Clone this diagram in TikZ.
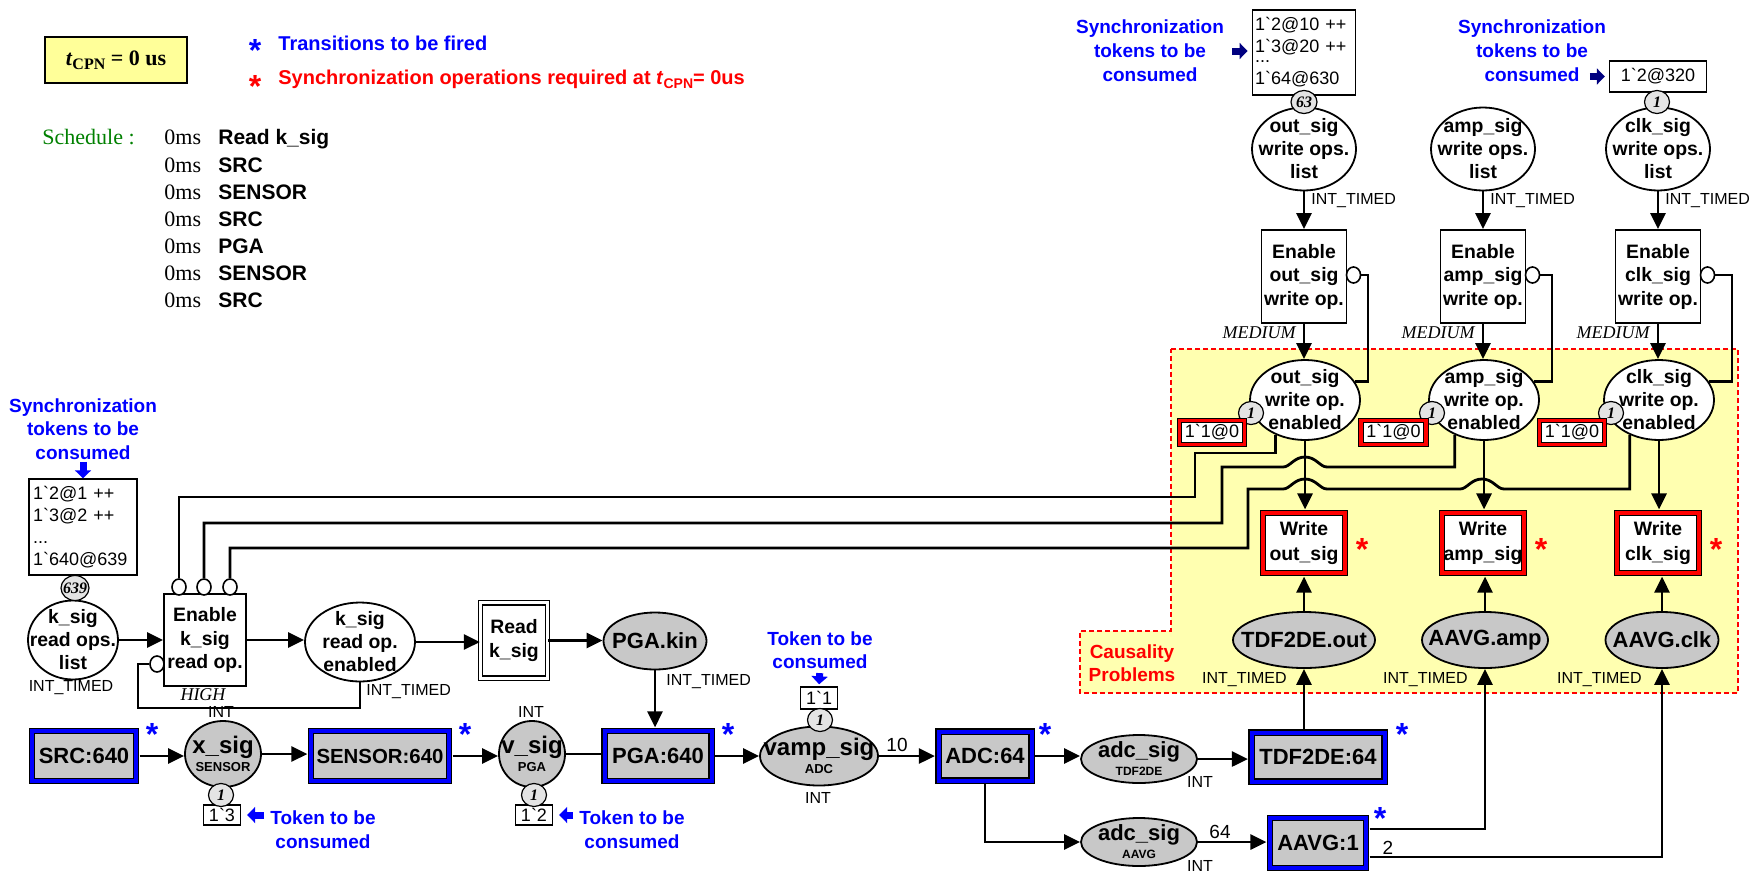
\documentclass[tikz,border=0pt]{standalone}
\usepackage{fontspec}
\setmainfont{Liberation Serif}
\setsansfont{Liberation Sans}
\newfontfamily\tokfont{Liberation Sans}
\usetikzlibrary{arrows.meta,shapes.geometric}
\definecolor{tblue}{HTML}{0000FF}
\definecolor{navyb}{HTML}{000080}
\definecolor{pgray}{HTML}{C8C8C8}
\definecolor{cgray}{HTML}{E4E4E4}
\definecolor{ayellow}{HTML}{FFFFB0}
\definecolor{byellow}{HTML}{FFFF99}
\definecolor{sgreen}{HTML}{008000}
\newcommand\myfs[2]{\fontsize{#1}{#2}\selectfont}
\newcommand\bq{\textasciigrave}
\begin{document}
\begin{tikzpicture}[x=0.5pt,y=-0.5pt,
  ptxt/.style={inner sep=0pt, align=center, font=\sffamily\bfseries\myfs{9.7}{11.5}},
  gtxt/.style={inner sep=0pt, align=center, font=\sffamily\bfseries\myfs{11}{12}},
  stxt/.style={inner sep=0pt, align=center, font=\sffamily\bfseries\myfs{12}{12}},
  atxt/.style={inner sep=0pt, align=center, font=\sffamily\bfseries\myfs{11}{12}},
  pl/.style={ellipse, draw, line width=0.9pt, fill=white, inner sep=0pt, label={[ptxt]center:#1}},
  gpl/.style={ellipse, draw, line width=0.9pt, fill=pgray, inner sep=0pt, label={[gtxt]center:#1}},
  spl/.style={ellipse, draw, line width=0.9pt, fill=pgray, inner sep=0pt, label={[stxt]center:#1}},
  apl/.style={ellipse, draw, line width=0.9pt, fill=pgray, inner sep=0pt, label={[atxt]center:#1}},
  wtrans/.style={rectangle, draw, line width=0.9pt, fill=white, inner sep=0pt, align=center, font=\sffamily\bfseries\myfs{9.7}{11.75}},
  btrans/.style={rectangle, draw=black, line width=0.6pt, double=tblue, double distance=2pt, fill=pgray, inner sep=0pt, font=\sffamily\bfseries\myfs{11}{12}},
  rtrans/.style={rectangle, draw=black, line width=0.6pt, double=red, double distance=2pt, fill=white, inner sep=0pt, align=center, font=\sffamily\bfseries\myfs{9.7}{12.5}},
  rtok/.style={rectangle, draw=black, line width=0.4pt, double=red, double distance=1.8pt, fill=white, inner sep=0pt, minimum width=32.5pt, minimum height=12pt, font=\tokfont\myfs{9}{10}},
  tok/.style={rectangle, draw, line width=0.7pt, fill=white, inner sep=0pt, font=\tokfont\myfs{9}{11}},
  cntf/.style={inner sep=0pt, font=\rmfamily\bfseries\itshape\myfs{8}{8}},
  cnt/.style={ellipse, draw, line width=0.6pt, fill=cgray, inner sep=0pt, minimum width=12.5pt, minimum height=11.5pt, label={[cntf]center:#1}},
  inh/.style={ellipse, draw, line width=0.8pt, fill=white, inner sep=0pt, minimum width=7pt, minimum height=8pt},
  small/.style={inner sep=0pt, font=\sffamily\myfs{8}{9}},
  prio/.style={inner sep=0pt, font=\rmfamily\itshape\myfs{9}{10}},
  num/.style={inner sep=0pt, font=\sffamily\myfs{9.5}{10}},
  bluetxt/.style={text=tblue, align=center, inner sep=0pt, font=\sffamily\bfseries\myfs{9.5}{11.75}},
  bstar/.style={text=tblue, inner sep=0pt, font=\sffamily\bfseries\myfs{16}{16}},
  rstar/.style={bstar, text=red},
  conn/.style={line width=1.4pt, -{Triangle[length=8pt,width=7.5pt]}},
  lnk/.style={line width=1.4pt},
  barr/.style={line width=3.5pt, -{Triangle[length=4pt,width=8pt]}},
  schl/.style={anchor=west, inner sep=0pt, text height=7.5pt, text depth=2pt, font=\rmfamily\myfs{11}{12}},
  schb/.style={anchor=west, inner sep=0pt, text height=7.5pt, text depth=2pt, font=\sffamily\bfseries\myfs{10.5}{12}}
]
\useasboundingbox (0,0) rectangle (1751,873);

% causality area
\fill[ayellow] (1171,349) -- (1738,349) -- (1738,693) -- (1080,693) -- (1080,631) -- (1171,631) -- cycle;
\draw[red, line width=0.6pt, dash pattern=on 2.5pt off 1.5pt] (1171,349) -- (1738,349) -- (1738,693) -- (1080,693) -- (1080,631) -- (1171,631) -- cycle;
\node[text=red, align=center, inner sep=0pt, font=\sffamily\bfseries\myfs{9.5}{11.5}] (caus) at (1132,663) {Causality\\Problems};

% legend
\node[draw, line width=0.75pt, fill=byellow, minimum width=71pt, minimum height=23pt, inner sep=0pt, font=\rmfamily\bfseries\myfs{11}{12}] (tcpn) at (116,60) {\textit{t}\raisebox{-2pt}{\myfs{8}{8}CPN} = 0 us};
\node[bstar] (s1) at (255,50) {*};
\node[anchor=west, inner sep=0pt, text=tblue, font=\sffamily\bfseries\myfs{10}{12}] (l1) at (278,43) {Transitions to be fired};
\node[rstar] (s2) at (255,86) {*};
\node[anchor=west, inner sep=0pt, text=red, font=\sffamily\bfseries\myfs{10}{12}] (l2) at (278,79) {Synchronization operations required at \textit{t}\raisebox{-2pt}{\myfs{7}{7}CPN}= 0us};

% schedule
\node[schl, text=sgreen] (sch) at (42,139) {Schedule :};
\node[schl] (t1) at (164,139) {0ms}; \node[schb] (e1) at (218,139) {Read k\_sig};
\node[schl] (t2) at (164,167) {0ms}; \node[schb] (e2) at (218,167) {SRC};
\node[schl] (t3) at (164,194) {0ms}; \node[schb] (e3) at (218,194) {SENSOR};
\node[schl] (t4) at (164,221) {0ms}; \node[schb] (e4) at (218,221) {SRC};
\node[schl] (t5) at (164,248) {0ms}; \node[schb] (e5) at (218,248) {PGA};
\node[schl] (t6) at (164,275) {0ms}; \node[schb] (e6) at (218,275) {SENSOR};
\node[schl] (t7) at (164,302) {0ms}; \node[schb] (e7) at (218,302) {SRC};

% k_sig part
\node[bluetxt] (syncK) at (83,429) {Synchronization\\tokens to be\\consumed};
\node[tok, align=left, text width=50pt, minimum width=54pt, minimum height=48pt] (ktok) at (83,527) {1\bq 2@1 ++\\1\bq 3@2 ++\\...\\1\bq 640@639};
\node[pl={k\_sig\\read ops.\\list}, minimum width=45pt, minimum height=39.5pt] (kops) at (73,640) {};
\node[cnt=639, minimum width=14pt, minimum height=12.5pt] (kcnt) at (75,588) {};
\node[small] (kopsT) at (71,688) {INT\_TIMED};
\node[wtrans, minimum width=41pt, minimum height=46pt] (enk) at (205,640) {Enable\\k\_sig\\read op.};
\node[prio] (enkP) at (203,695) {HIGH};
\node[inh] (inh0) at (157,664) {};
\node[inh] (inh1) at (179,587) {};
\node[inh] (inh2) at (204,587) {};
\node[inh] (inh3) at (230,587) {};
\node[pl={k\_sig\\read op.\\enabled}, minimum width=55pt, minimum height=39.5pt] (kenab) at (360,642) {};
\node[small, anchor=west] (kenabT) at (366,692) {INT\_TIMED};
\node[wtrans, double, double distance=1.6pt, line width=0.6pt, minimum width=33.5pt, minimum height=37.7pt] (readk) at (514,640.5) {Read\\k\_sig};
\node[gpl={PGA.kin}, minimum width=51.5pt, minimum height=28.5pt] (pgakin) at (655,641) {};
\node[small, anchor=west] (pgakinT) at (666,682) {INT\_TIMED};

% bottom row
\node[btrans, minimum width=52pt, minimum height=25pt] (src) at (84,756) {SRC:640};
\node[bstar] (st1) at (152,734) {*};
\node[spl={x\_sig\\[-3pt]{\myfs{6.5}{7}SENSOR}}, minimum width=38pt, minimum height=33pt] (xsig) at (223,754) {};
\node[small] (xsigT) at (221,712) {INT};
\node[tok, minimum width=18.5pt, minimum height=10pt] (xtok) at (222,815) {1\bq 3};
\node[cnt=1] (xcnt) at (221,795) {};
\node[bluetxt, font=\sffamily\bfseries\myfs{9.5}{12}] (xtt) at (323,830) {Token to be\\consumed};
\node[btrans, minimum width=69pt, minimum height=25pt, font=\sffamily\bfseries\myfs{10.2}{12}] (sensor) at (380,756) {SENSOR:640};
\node[bstar] (st2) at (465,734) {*};
\node[spl={v\_sig\\[-3pt]{\myfs{6.5}{7}PGA}}, minimum width=33pt, minimum height=33pt] (vsig) at (532,754) {};
\node[small] (vsigT) at (531,712) {INT};
\node[tok, minimum width=18.5pt, minimum height=10pt] (vtok) at (534,815) {1\bq 2};
\node[cnt=1] (vcnt) at (534,795) {};
\node[bluetxt, font=\sffamily\bfseries\myfs{9.5}{12}] (vtt) at (632,830) {Token to be\\consumed};
\node[btrans, minimum width=53.5pt, minimum height=25pt] (pga) at (658,756) {PGA:640};
\node[bstar] (st3) at (728,734) {*};
\node[spl={vamp\_sig\\[-3pt]{\myfs{6.5}{7}ADC}}, minimum width=59pt, minimum height=29.5pt] (vamp) at (819,756) {};
\node[small] (vampT) at (818,798) {INT};
\node[tok, minimum width=18.5pt, minimum height=11pt] (vatok) at (819,698) {1\bq 1};
\node[cnt=1] (vacnt) at (820,720) {};
\node[bluetxt] (vatt) at (820,650) {Token to be\\consumed};
\node[btrans, minimum width=46.5pt, minimum height=24.5pt] (adc) at (985,756) {ADC:64};
\node[bstar] (st4) at (1045,734) {*};
\node[apl={adc\_sig\\[-3pt]{\myfs{6}{7}TDF2DE}}, minimum width=58pt, minimum height=24pt] (adcT) at (1139,759) {};
\node[small] (adcTT) at (1200,782) {INT};
\node[btrans, minimum width=66.5pt, minimum height=24.5pt] (tdf) at (1318,757) {TDF2DE:64};
\node[bstar] (st5) at (1402,734) {*};
\node[apl={adc\_sig\\[-3pt]{\myfs{6}{7}AAVG}}, minimum width=58pt, minimum height=24pt] (adcA) at (1139,842) {};
\node[small] (adcAT) at (1200,866) {INT};
\node[btrans, minimum width=48pt, minimum height=25pt] (aavg) at (1318,843) {AAVG:1};
\node[bstar] (st6) at (1380,818) {*};
\node[num] (n10) at (897,745) {10};
\node[num] (n64) at (1220,832) {64};
\node[num] (n2) at (1388,848) {2};
\coordinate (ja) at (1485,829);
\coordinate (jc) at (1662,857);

% right columns
\node[bluetxt, font=\sffamily\bfseries\myfs{9.5}{12}] (syncO) at (1150,51) {Synchronization\\tokens to be\\consumed};
\node[bluetxt, font=\sffamily\bfseries\myfs{9.5}{12}] (syncC) at (1532,51) {Synchronization\\tokens to be\\consumed};
\node[tok, align=left, text width=49pt, minimum width=51.75pt, minimum height=42.5pt] (otok) at (1304,52.5) {1\bq 2@10 ++\\1\bq 3@20 ++\\[-6pt]...\\1\bq 64@630};
\node[tok, minimum width=48.5pt, minimum height=15.5pt] (ctok) at (1658,76.5) {1\bq 2@320};

\node[gpl={TDF2DE.out}, minimum width=71pt, minimum height=28pt] (tdfout) at (1304,640) {};
\node[gpl={AAVG.amp}, minimum width=63pt, minimum height=28pt] (aamp) at (1485,640) {};
\node[gpl={AAVG.clk}, minimum width=56.5pt, minimum height=28pt] (aclk) at (1662,640) {};
\node[small, anchor=east] (tdfoutT) at (1287,680) {INT\_TIMED};
\node[small, anchor=east] (aampT) at (1468,680) {INT\_TIMED};
\node[small, anchor=east] (aclkT) at (1642,680) {INT\_TIMED};

\foreach \c/\x/\nm/\cx/\tx/\jx in {O/1304/out/1251/1212/1368, A/1483/amp/1432/1393.5/1552, C/1658/clk/1611/1572/1732}{
  \node[pl={\nm\_sig\\write ops.\\list}, minimum width=52pt, minimum height=41.5pt] (ops\c) at (\x,149) {};
  \node[small, anchor=west] (ops\c T) at (\x+7,201) {INT\_TIMED};
  \node[wtrans, minimum width=42.5pt, minimum height=46.5pt] (en\c) at (\x,276.5) {Enable\\\nm\_sig\\write op.};
  \node[inh] (inh\c) at (\x+49.5,275) {};
  \node[prio, anchor=east] (en\c P) at (\x-8,333) {MEDIUM};
  \node[pl={\nm\_sig\\write op.\\enabled}, minimum width=55pt, minimum height=40pt] (enab\c) at (\x+1,400) {};
  \node[cnt=1] (e\c cnt) at (\cx,413) {};
  \node[rtok] (e\c tok) at (\tx,432.5) {1\bq 1@0};
  \node[rtrans, minimum width=41pt, minimum height=30pt] (w\c) at (\x,543) {Write\\\nm\_sig};
  \node[rstar] (r\c) at (\x+58,549) {*};
  \coordinate (j\c) at (\jx,275);
  \draw[conn] (ops\c.south) -- (ops\c.south |- en\c.north);
  \draw[conn] (en\c.south) -- (en\c.south |- enab\c.north);
  \draw[conn, shorten >=1.5pt] (enab\c.south) -- (enab\c.south |- w\c.north);
  \draw[lnk] (enab\c.20) -| (j\c) -- (inh\c.east);
}
\node[cnt=63, minimum width=13pt] (ocnt) at (1304,102) {};
\node[cnt=1] (ccnt) at (1657,102) {};

% connectors k_sig
\draw[conn] (kops.east) -- (kops.east -| enk.west);
\draw[conn] (enk.east) -- (enk.east -| kenab.west);
\draw[conn] (kenab.east) -- (kenab.east -| readk.west);
\draw[conn] (readk.east) -- (readk.east -| pgakin.west);
\draw[conn, shorten >=1.5pt] (pgakin.south) -- (pgakin.south |- pga.north);
\coordinate (jl) at (138,708);
\draw[lnk] (kenab.south) |- (jl) |- (inh0.west);

% long inhibitor lines with bridges
\draw[lnk] (enabO.230) |- (1195,453) -- (1195,497) -| (inh1.north);
\draw[lnk] (enabA.230) |- (1327,467) .. controls (1320,467) and (1316,457) .. (1305,457) .. controls (1294,457) and (1290,467) .. (1283,467) -| (1222,523) -| (inh2.north);
\draw[lnk] (enabC.230) |- (1504,489) .. controls (1497,489) and (1493,479) .. (1482,479) .. controls (1471,479) and (1467,489) .. (1460,489) -- (1327,489) .. controls (1320,489) and (1316,479) .. (1305,479) .. controls (1294,479) and (1290,489) .. (1283,489) -- (1248,489) -- (1248,548) -| (inh3.north);

% bottom connectors
\draw[conn, shorten <=1.5pt] (src.east) -- (src.east -| xsig.west);
\draw[conn, shorten >=1.5pt] (xsig.east) -- (xsig.east -| sensor.west);
\draw[conn, shorten <=1.5pt] (sensor.east) -- (sensor.east -| vsig.west);
\draw[lnk, shorten >=1.5pt] (vsig.east) -- (vsig.east -| pga.west);
\draw[conn, shorten <=1.5pt] (pga.east) -- (pga.east -| vamp.west);
\draw[conn, shorten >=1.5pt] (vamp.east) -- (vamp.east -| adc.west);
\draw[conn, shorten <=1.5pt] (adc.east) -- (adc.east -| adcT.west);
\draw[conn, shorten >=1.5pt] (adcT.east) -- (adcT.east -| tdf.west);
\draw[conn, shorten <=1.5pt] (adc.south) |- (adcA.west);
\draw[conn, shorten >=1.5pt] (adcA.east) -- (adcA.east -| aavg.west);
\draw[conn, shorten <=1.5pt] (tdfout.south |- tdf.north) -- (tdfout.south);
\draw[conn, shorten <=1.5pt] (aavg.east |- ja) -| (aamp.south);
\draw[conn, shorten <=1.5pt] (aavg.east |- jc) -| (aclk.south);
\draw[conn, shorten >=1.5pt] (tdfout.north) -- (tdfout.north |- wO.south);
\draw[conn, shorten >=1.5pt] (aamp.north) -- (aamp.north |- wA.south);
\draw[conn, shorten >=1.5pt] (aclk.north) -- (aclk.north |- wC.south);

% token arrows
\draw[barr, tblue, shorten <=1pt] (syncK.south) -- (ktok.north);
\draw[barr, navyb, shorten <=4pt, shorten >=2pt] (syncO.east) -- (syncO.east -| otok.west);
\draw[barr, navyb, shorten >=2pt] ([xshift=-9.5pt]ctok.west) -- (ctok.west);
\draw[barr, tblue, shorten <=3pt, shorten >=3pt] (xtok.east -| xtt.west) -- (xtok.east);
\draw[barr, tblue, shorten <=3pt, shorten >=3pt] (vtok.east -| vtt.west) -- (vtok.east);
\draw[barr, tblue, shorten <=2pt, shorten >=1pt] (vatt.south) -- (vatok.north);
\end{tikzpicture}
\end{document}
